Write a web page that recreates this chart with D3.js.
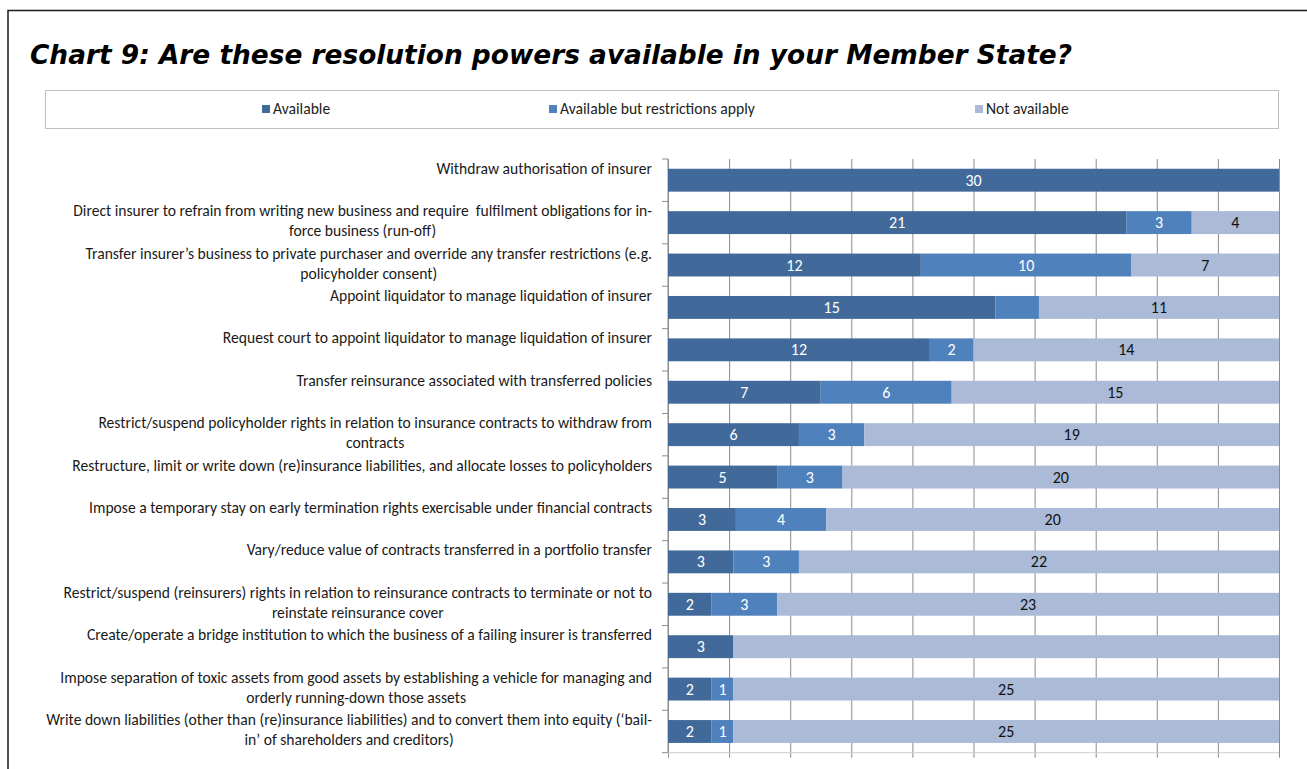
<!DOCTYPE html>
<html>
<head>
<meta charset="utf-8">
<script src="https://cdn.jsdelivr.net/npm/d3@7"></script>
<style>
  body { margin: 0; background: #fff; }
  svg { display: block; }
  .cat text { white-space: pre; }
</style>
</head>
<body>
<div id="main"></div>
<script>
// Donnees
var categories = [
  ["Withdraw authorisation of insurer"],
  ["Direct insurer to refrain from writing new business and require  fulfilment obligations for in-", "force business (run-off)"],
  ["Transfer insurer\u2019s business to private purchaser and override any transfer restrictions (e.g.", "policyholder consent)"],
  ["Appoint liquidator to manage liquidation of insurer"],
  ["Request court to appoint liquidator to manage liquidation of insurer"],
  ["Transfer reinsurance associated with transferred policies"],
  ["Restrict/suspend policyholder rights in relation to insurance contracts to withdraw from", "contracts"],
  ["Restructure, limit or write down (re)insurance liabilities, and allocate losses to policyholders"],
  ["Impose a temporary stay on early termination rights exercisable under financial contracts"],
  ["Vary/reduce value of contracts transferred in a portfolio transfer"],
  ["Restrict/suspend (reinsurers) rights in relation to reinsurance contracts to terminate or not to", "reinstate reinsurance cover"],
  ["Create/operate a bridge institution to which the business of a failing insurer is transferred"],
  ["Impose separation of toxic assets from good assets by establishing a vehicle for managing and", "orderly running-down those assets"],
  ["Write down liabilities (other than (re)insurance liabilities) and to convert them into equity (\u2018bail-", "in\u2019 of shareholders and creditors)"]
];
var seriesNames = ["Available", "Available but restrictions apply", "Not available"];
var available   = [30, 21, 12, 15, 12, 7, 6, 5, 3, 3, 2, 3, 2, 2];
var restricted  = [ 0,  3, 10,  2,  2, 6, 3, 3, 4, 3, 3, 0, 1, 1];
var notAvail    = [ 0,  4,  7, 11, 14, 15, 19, 20, 20, 22, 23, 25, 25, 25];
// etiquettes absentes dans l'original : [ligne, serie]
var hiddenLabels = [[3, 1], [11, 2]];
var ticks = d3.range(0, 1.0001, 0.1);

var colors = ["#416a9b", "#4f81bd", "#aabad7"];
var W = 1307, H = 769;
var plotL = 668, plotR = 1279, plotT = 159, plotB = 752.7;
var labelFont = "Carlito, Lato, 'Open Sans', sans-serif";
var labelSize = 15.6;

function main (container) {
  var svg = d3.select(container).append("svg").attr("width", W).attr("height", H);

  // cadre
  svg.append("rect").attr("x", 8).attr("y", 10.5).attr("width", W + 20).attr("height", H + 20)
    .attr("fill", "none").attr("stroke", "#1a1a1a").attr("stroke-width", 1.5);

  svg.append("text").attr("x", 30).attr("y", 64)
    .attr("font-family", "'DejaVu Sans', Verdana, sans-serif")
    .attr("font-weight", "bold").attr("font-style", "italic").attr("font-size", 26.4)
    .attr("fill", "#000")
    .text("Chart 9: Are these resolution powers available in your Member State?");

  // legende
  svg.append("rect").attr("x", 45.5).attr("y", 90.5).attr("width", 1233).attr("height", 38)
    .attr("fill", "#fff").attr("stroke", "#bfbfbf");
  var legX = [262, 549, 975];
  var leg = svg.append("g").selectAll("g").data(seriesNames).join("g")
    .attr("transform", (d, i) => `translate(${legX[i]},109)`);
  leg.append("rect").attr("x", 0).attr("y", -4).attr("width", 8).attr("height", 8)
    .attr("fill", (d, i) => colors[i]);
  leg.append("text").attr("x", 11).attr("y", 5)
    .attr("font-family", labelFont).attr("font-size", labelSize).attr("fill", "#222")
    .text(d => d);

  // table pour l'empilement
  var rows = categories.map((c, i) => ({ idx: i, vals: [available[i], restricted[i], notAvail[i]] }));
  rows.forEach(r => {
    var tot = d3.sum(r.vals), acc = 0;
    r.segs = r.vals.map((v, s) => { var x0 = acc / tot; acc += v; return { row: r.idx, s: s, v: v, x0: x0, x1: acc / tot }; });
  });

  var x = d3.scaleLinear().domain([0, 1]).range([plotL, plotR]);
  var y = d3.scaleBand().domain(d3.range(categories.length)).range([plotT, plotB])
    .paddingInner(0.46).paddingOuter(0.23);
  var step = y.step();

  // grille
  svg.append("g")
    .attr("transform", `translate(0,${plotT})`)
    .call(d3.axisTop(x).tickValues(ticks).tickSize(-(plotB - plotT) - 5).tickFormat(""))
    .call(g => g.select(".domain").remove())
    .call(g => g.selectAll(".tick line").attr("stroke", "#8c8c8c").attr("stroke-width", 1));

  // axe vertical et graduations
  var axg = svg.append("g").attr("stroke", "#8c8c8c");
  axg.append("line").attr("x1", plotL).attr("x2", plotL).attr("y1", plotT).attr("y2", plotB);
  axg.append("line").attr("x1", plotL).attr("x2", plotR).attr("y1", plotB).attr("y2", plotB).attr("stroke", "#d0d0d0");
  axg.selectAll(".yt").data(d3.range(categories.length + 1)).join("line")
    .attr("x1", plotL - 6).attr("x2", plotL)
    .attr("y1", i => plotT + i * step).attr("y2", i => plotT + i * step);

  // barres
  var segs = rows.flatMap(r => r.segs).filter(d => d.v > 0);
  svg.append("g").selectAll("rect").data(segs).join("rect")
    .attr("x", d => x(d.x0)).attr("width", d => x(d.x1) - x(d.x0))
    .attr("y", d => y(d.row)).attr("height", y.bandwidth())
    .attr("fill", d => colors[d.s]);

  var hidden = new Set(hiddenLabels.map(d => d[0] + "-" + d[1]));
  svg.append("g").attr("font-family", labelFont).attr("font-size", 16).attr("text-anchor", "middle")
    .selectAll("text").data(segs.filter(d => !hidden.has(d.row + "-" + d.s))).join("text")
    .attr("x", d => (x(d.x0) + x(d.x1)) / 2)
    .attr("y", d => y(d.row) + y.bandwidth() / 2 + 5.6)
    .attr("fill", d => d.s < 2 ? "#fff" : "#111")
    .text(d => d.v);

  // libelles des categories
  var lab = svg.append("g").attr("class", "cat").attr("font-family", labelFont).attr("font-size", labelSize)
    .attr("fill", "#1a1a1a");
  categories.forEach((lines, i) => {
    var t0 = plotT + i * step + 9.5 + 5.2;
    var g = lab.append("g");
    var ts = g.selectAll("text").data(lines).join("text")
      .attr("xml:space", "preserve")
      .attr("y", (d, k) => t0 + k * 20).text(d => d);
    var w = d3.max(ts.nodes(), n => n.getComputedTextLength());
    if (lines.length > 1) ts.attr("text-anchor", "middle").attr("x", 652 - w / 2);
    else ts.attr("text-anchor", "end").attr("x", 652);
  });
}

window.onload = function () {
  main(document.getElementById("main"));
};
</script>
</body>
</html>
